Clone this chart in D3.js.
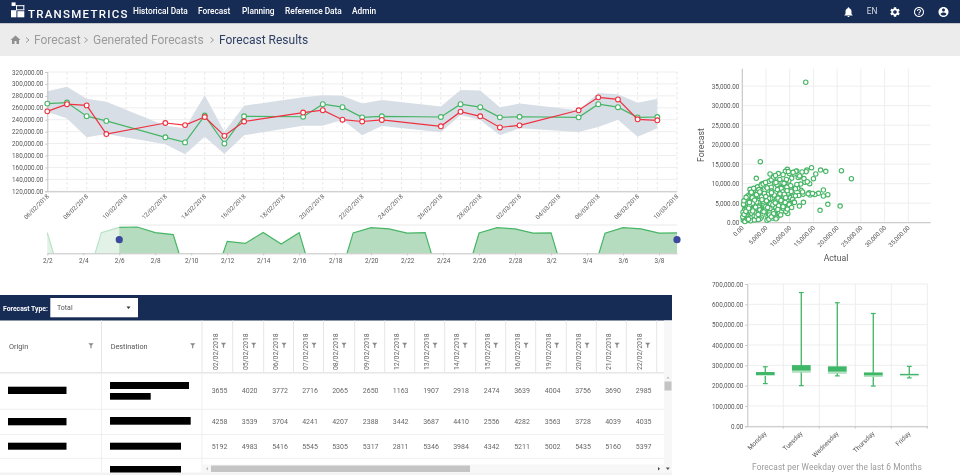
<!DOCTYPE html>
<html><head><meta charset="utf-8">
<script src="https://cdn.jsdelivr.net/npm/d3@7/dist/d3.min.js"></script>
<style>
html,body{margin:0;padding:0;background:#fff;overflow:hidden}
svg{display:block;filter:blur(0.3px)}
text{font-family:Roboto,sans-serif}
.tick text{font-family:Roboto,sans-serif}
</style></head><body><svg id="c" width="960" height="475"></svg>
<script>
// ---------- data ----------
const navItems = ["Historical Data","Forecast","Planning","Reference Data","Admin"];
const crumbs = ["Forecast","Generated Forecasts"];
const currentCrumb = "Forecast Results";

const forecastDates = ["2018-02-06","2018-02-07","2018-02-08","2018-02-09","2018-02-12","2018-02-13","2018-02-14","2018-02-15","2018-02-16","2018-02-19","2018-02-20","2018-02-21","2018-02-22","2018-02-23","2018-02-26","2018-02-27","2018-02-28","2018-03-01","2018-03-02","2018-03-05","2018-03-06","2018-03-07","2018-03-08","2018-03-09"];
const forecastValues = [267000,268800,246000,238000,210500,202000,247000,200000,245700,245000,266000,261000,244000,245700,244600,266000,261000,244000,245000,244000,266000,261000,244000,244600];
const actualSeries = [254000,266000,264000,216000,234500,231000,244600,213000,237000,252000,256000,240000,237000,239600,229000,253500,245700,227000,230600,255800,277500,274000,240700,239000];
const bandUpper = [287600,295400,275000,270000,230000,225600,281000,220000,263600,277500,281000,280000,267000,273000,262000,290000,289000,261000,267000,256000,285000,282600,268600,275000];
const bandLower = [253500,242000,210500,216000,199000,182000,211600,182600,214000,230000,230000,240000,214000,229500,219000,248000,239600,214000,225600,219400,228000,240000,211600,225600];

const overviewStart = "2018-02-02";
const overviewValues = [246000,0,0,246000,267000,268800,246000,238000,0,0,210500,202000,247000,200000,245700,0,0,245000,266000,261000,244000,245700,0,0,244600,266000,261000,244000,245000,0,0,244000,266000,261000,244000,244600];

const scatterActual = [13380,3800,2950,23000,20900,17600,16500,14600,13600,13450,11480,9500,9080,5850,6830,1620,20630,18030,16400,18030,17100,16060,17100,9580,7820,12890,12040,15490,15000,14080,
 14300,13900,13200,12800,12400,12200,11900,11600,11100,10900,10600,10400,10100,9800,9300,9000,8700,8400,8100,7800,
 13000,12700,12300,11800,11300,10800,10300,9900,9600,9200,8800,8500,8200,7900,7600,7300,7000,6700,6400,6100,
 15300,14800,14200,13700,12600,12100,11700,11200,10700,10200,9700,9400,8900,8600,8000,7700,7400,7100,6800,6500,
 6200,5900,5600,5300,5000,4700,4400,4100,3800,3500,3200,2900,2600,2300,2000,1700,1400,1100,800,500,
 6300,6000,5700,5400,5100,4800,4500,4200,3900,3600,3300,3000,2700,2400,2100,1800,1500,1200,900,600,
 200,350,500,700,850,1000,1150,1300,1450,1650,1850,2050,2250,2450,2650,2850,3050,3250,3450,3650,
 150,300,450,650,950,1250,1550,1900,2200,2500,2800,3100,3400,3700,4000,4300,4600,4900,5200,5500,
 5800,6100,6400,6700,7000,7300,7600,7900,8200,8500,8800,9100,9400,9700,10000,10300,10600,10900,11200,11500,
 4050,4350,4650,4950,5250,5550,5850,6150,6450,6750,7050,7350,7650,7950,8250,8550,8850,9150,9450,9750,
 100,250,400,550,750,1050,1350,1750,2150,2550,2950,3350,3750,4150,4550,4950,5350,5750,6150,6550,
 6950,7250,7550,7850,8150,8450,8750,9050,9350,9650,3100,3600,4100,4600,5100,5600,6100,6600,7100,7600,
 6400,6900,7300,7800,8300,8700,9200,9900,10400,11000,6600,7100,7500,8100,8600,9500,1200,1700,2300,2700,3200,3500,4000,4400,4900,1500,2100,2600,3000,3700,350,800,1300,1900,2400,3400,5200,5600,6100,7000];
const scatterForecast = [36000,15640,11370,11280,13330,13160,13500,14100,13500,13080,13250,13680,13160,12480,11970,8550,4270,4700,3160,7180,8380,7520,6840,2390,2050,5210,4270,12480,11280,7690,
 7100,7400,10400,7300,8300,11800,7000,9500,8900,12500,7500,11400,6500,10700,11100,9900,6100,10300,9000,5400,
 11300,7900,9900,11600,13200,6800,8400,12600,7300,9200,10100,6600,8800,11100,5800,9700,7700,10800,6300,9100,
 7200,7500,10000,10500,13000,12000,8800,6900,12900,9500,13100,5700,7800,12300,7000,4800,8500,5600,10200,11200,
 7400,4900,8100,5500,9300,3800,7000,4500,8600,5200,6700,3400,5900,2700,6300,4100,5400,2200,3900,1300,
 3100,6200,3700,7300,2600,6400,3200,5700,8300,4300,7800,4700,6900,3500,5100,2400,3000,1700,2800,3600,
 600,1900,3300,1100,4200,2000,4900,800,3700,1500,5600,2300,6100,1000,4400,2600,5300,1700,4000,6800,
 2700,4600,900,2400,3400,600,4500,1200,3000,1700,4000,800,2500,3300,1400,2900,4700,3500,1900,2200,
 2700,1800,3900,1300,3100,2300,4400,6200,5000,7900,6600,4300,9100,7600,4900,8000,6000,5300,8700,9800,
 6600,5500,7500,4200,8900,6200,3600,8100,4600,7100,3800,6000,4400,7400,5800,3700,7300,6400,8200,4100,
 1500,4700,2100,300,2900,1000,3700,500,5000,700,1600,2100,1000,5900,2800,6700,3900,2000,7700,2900,
 5100,3200,6300,2500,5700,3000,4600,5200,3300,4000,8200,9100,9900,10100,5600,10600,11000,11700,10300,12600,
 1200,1900,1300,2400,3000,3600,2900,4600,3900,5200,2300,1000,3400,2000,4100,3500,6900,7600,8100,8700,9200,8500,9600,9900,10300,5200,6400,5800,7200,7900,5600,6500,900,7800,8800,800,600,900,1500,12100];

const weekdayNames = ["Monday","Tuesday","Wednesday","Thursday","Friday"];
const boxLow = [210000,200000,248000,198000,238000];
const boxQ1 = [247500,264000,259000,243000,247000];
const boxMedian = [250000,272000,267000,248000,249000];
const boxQ3 = [267000,301000,295000,265000,258000];
const boxHigh = [293000,658000,608000,555000,295000];
const boxTitle = "Forecast per Weekday over the last 6 Months";

const tableDates = ["02/02/2018","05/02/2018","06/02/2018","07/02/2018","08/02/2018","09/02/2018","12/02/2018","13/02/2018","14/02/2018","15/02/2018","16/02/2018","19/02/2018","20/02/2018","21/02/2018","22/02/2018"];
const tableRow1 = [3655,4020,3772,2716,2065,2650,1163,1907,2918,2474,3639,4004,3756,3690,2985];
const tableRow2 = [4258,3539,3704,4241,4207,2388,3442,3687,4410,2556,4282,3563,3728,4039,4035];
const tableRow3 = [5192,4983,5416,5545,5305,5317,2811,5346,3984,4342,5211,5002,5435,5160,5397];

// ---------- helpers ----------
const svg = d3.select("#c");
const NAVY="#172c55", GREEN="#46b565", RED="#f0303f", BAND="#d5dce5", GRID="#eeeeee", AXIS="#c4c4c4", TICK="#555";
const parse = d3.utcParse("%Y-%m-%d");
const fmt2 = d3.format(",.2f");
const defs = svg.append("defs");
function icon(path,x,y,size,fill){
  svg.append("path").attr("d",path).attr("fill",fill)
    .attr("transform",`translate(${x-size/2},${y-size/2}) scale(${size/24})`);
}
function styleAxis(g,fs){
  g.selectAll(".domain").attr("stroke",AXIS).attr("stroke-width",1);
  g.selectAll(".tick line").attr("stroke",AXIS);
  g.selectAll("text").attr("fill",TICK).style("font-size",fs+"px");
}
function rotateLabels(g,off){
  g.selectAll("text").attr("y",0).attr("dy","0.35em").attr("text-anchor","end")
   .attr("transform",`translate(0,${off}) rotate(-45)`);
}

// ---------- page chrome ----------
svg.append("rect").attr("width",960).attr("height",475).attr("fill","#fff");
svg.append("rect").attr("y",23).attr("width",960).attr("height",33).attr("fill","#ececec");
svg.append("rect").attr("width",960).attr("height",23).attr("fill",NAVY);
svg.append("rect").attr("y",23).attr("width",960).attr("height",1).attr("fill","#c4c6cb");
// logo
const logo=[[11.6,2.4,4,3.6],[16,5.2,8.3,1],[23.3,5.2,1,5],[16,9.3,8.3,1],[16,5.2,1,5],[11,10.2,5.4,7.1],[17.4,11.2,6.9,6.1]];
svg.selectAll(".lg").data(logo).join("rect").attr("x",d=>d[0]).attr("y",d=>d[1]).attr("width",d=>d[2]).attr("height",d=>d[3]).attr("fill","#fff");
svg.append("text").attr("x",28).attr("y",17.5).attr("fill","#fff").attr("font-size",11.5).attr("font-weight",500).attr("letter-spacing",1.25).text("TRANSMETRICS");
const navX=[133,198,242,285,352];
svg.selectAll(".nav").data(navItems).join("text").attr("x",(d,i)=>navX[i]).attr("y",14).attr("fill","#fff").attr("font-size",8.3).attr("font-weight",500).text(d=>d);
const P={
 home:"M10 20v-6h4v6h5v-8h3L12 3 2 12h3v8z",
 bell:"M12 22c1.1 0 2-.9 2-2h-4c0 1.1.89 2 2 2zm6-6v-5c0-3.07-1.64-5.64-4.5-6.32V4c0-.83-.67-1.5-1.5-1.5s-1.5.67-1.5 1.5v.68C7.63 5.36 6 7.92 6 11v5l-2 2v1h16v-1l-2-2z",
 gear:"M19.14 12.94c.04-.3.06-.61.06-.94 0-.32-.02-.64-.07-.94l2.03-1.58c.18-.14.23-.41.12-.61l-1.92-3.32c-.12-.22-.37-.29-.59-.22l-2.39.96c-.5-.38-1.03-.7-1.62-.94l-.36-2.54c-.04-.24-.24-.41-.48-.41h-3.84c-.24 0-.43.17-.47.41l-.36 2.54c-.59.24-1.13.57-1.62.94l-2.39-.96c-.22-.08-.47 0-.59.22L2.74 8.87c-.12.21-.08.47.12.61l2.03 1.58c-.05.3-.09.63-.09.94s.02.64.07.94l-2.03 1.58c-.18.14-.23.41-.12.61l1.92 3.32c.12.22.37.29.59.22l2.39-.96c.5.38 1.03.7 1.62.94l.36 2.54c.05.24.24.41.48.41h3.84c.24 0 .44-.17.47-.41l.36-2.54c.59-.24 1.13-.56 1.62-.94l2.39.96c.22.08.47 0 .59-.22l1.92-3.32c.12-.22.07-.47-.12-.61l-2.01-1.58zM12 15.6c-1.98 0-3.6-1.62-3.6-3.6s1.62-3.6 3.6-3.6 3.6 1.62 3.6 3.6-1.62 3.6-3.6 3.6z",
 help:"M11 18h2v-2h-2v2zm1-16C6.48 2 2 6.48 2 12s4.48 10 10 10 10-4.48 10-10S17.52 2 12 2zm0 18c-4.41 0-8-3.59-8-8s3.59-8 8-8 8 3.59 8 8-3.59 8-8 8zm0-14c-2.21 0-4 1.79-4 4h2c0-1.1.9-2 2-2s2 .9 2 2c0 2-3 1.75-3 5h2c0-2.25 3-2.5 3-5 0-2.21-1.79-4-4-4z",
 user:"M12 2C6.48 2 2 6.48 2 12s4.48 10 10 10 10-4.48 10-10S17.52 2 12 2zm0 3c1.66 0 3 1.34 3 3s-1.34 3-3 3-3-1.34-3-3 1.34-3 3-3zm0 14.2c-2.5 0-4.71-1.28-6-3.22.03-1.99 4-3.08 6-3.08 1.99 0 5.97 1.09 6 3.08-1.29 1.94-3.5 3.22-6 3.22z"};
icon(P.bell,848.5,12,12,"#fff");
svg.append("text").attr("x",872).attr("y",14).attr("text-anchor","middle").attr("fill","#d8dce4").attr("font-size",8.3).text("EN");
icon(P.gear,895,12,12,"#fff");
icon(P.help,919,12,12,"#fff");
icon(P.user,943.5,12,12,"#fff");
// breadcrumb
icon(P.home,15.5,40,12,"#8f8f8f");
const crumbX=[34,93], sepX=[27.5,86,212];
svg.selectAll(".cr").data(crumbs).join("text").attr("x",(d,i)=>crumbX[i]).attr("y",44).attr("fill","#9b9b9b").attr("font-size",12).text(d=>d);
svg.append("text").attr("x",219).attr("y",44).attr("fill","#2d3f63").attr("font-size",12).text(currentCrumb);
svg.selectAll(".sep").data(sepX).join("path").attr("fill","none").attr("stroke","#9b9b9b").attr("stroke-width",1)
   .attr("d",d=>`M${d-1.5} 37.5L${d+1.5} 40L${d-1.5} 42.5`);

// ---------- main time chart ----------
const dates = forecastDates.map(parse);
const x = d3.scaleUtc().domain([parse("2018-02-06"),parse("2018-03-10")]).range([47.3,677]);
const y = d3.scaleLinear().domain([120000,320000]).range([191.3,72]);
const gm = svg.append("g");
const yTicks = d3.range(120000,320001,20000);
gm.selectAll(".hg").data(yTicks).join("line").attr("x1",47.3).attr("x2",677).attr("y1",d=>y(d)).attr("y2",d=>y(d)).attr("stroke",GRID);
gm.selectAll(".vg").data(d3.utcDays(parse("2018-02-07"),parse("2018-03-11"))).join("line").attr("x1",d=>x(d)).attr("x2",d=>x(d)).attr("y1",72).attr("y2",191.3).attr("stroke","#e6e6e6").attr("stroke-dasharray","2.5,2.5");
gm.append("path").datum(dates.map((d,i)=>i)).attr("fill",BAND).attr("fill-opacity",.95)
  .attr("d",d3.area().x(i=>x(dates[i])).y0(i=>y(bandLower[i])).y1(i=>y(bandUpper[i])));
gm.append("g").attr("transform","translate(47.3,0)").call(d3.axisLeft(y).tickValues(yTicks).tickFormat(fmt2).tickSize(2).tickPadding(2)).call(g=>styleAxis(g,6.3));
const xa = gm.append("g").attr("transform","translate(0,191.3)").call(d3.axisBottom(x).tickValues(d3.utcDays(parse("2018-02-06"),parse("2018-03-11"),2)).tickFormat(d3.utcFormat("%d/%m/%Y")).tickSize(0).tickSizeOuter(0));
styleAxis(xa,6.1); rotateLabels(xa,4);
function drawSeries(vals,col){
  gm.append("path").datum(vals).attr("fill","none").attr("stroke",col).attr("stroke-width",1.2)
    .attr("d",d3.line().x((d,i)=>x(dates[i])).y(d=>y(d)));
  gm.selectAll(null).data(vals).join("circle").attr("cx",(d,i)=>x(dates[i])).attr("cy",d=>y(d)).attr("r",2.4).attr("fill","#fff").attr("stroke",col).attr("stroke-width",1.1);
}
drawSeries(forecastValues,GREEN);
drawSeries(actualSeries,RED);

// ---------- overview (range selector) ----------
const ovDates = overviewValues.map((d,i)=>d3.utcDay.offset(parse(overviewStart),i));
const ox = d3.scaleUtc().domain([parse(overviewStart),parse("2018-03-09")]).range([47.3,677]);
const oy = d3.scaleLinear().domain([162000,277000]).range([253.3,225]);
defs.append("clipPath").attr("id","ovclip").append("rect").attr("x",47.3).attr("y",224).attr("width",630).attr("height",29.3);
const go = svg.append("g");
const gc = go.append("g").attr("clip-path","url(#ovclip)");
gc.append("path").datum(overviewValues).attr("fill","#b6dcbf").attr("stroke","none")
  .attr("d",d3.area().x((d,i)=>ox(ovDates[i])).y0(oy(0)).y1(d=>oy(d)));
gc.append("path").datum(overviewValues).attr("fill","none").attr("stroke",GREEN).attr("stroke-width",1.2)
  .attr("d",d3.line().x((d,i)=>ox(ovDates[i])).y(d=>oy(d)));
const bx0=ox(parse("2018-02-06"));
go.append("rect").attr("x",47.3).attr("y",224).attr("width",bx0-47.3).attr("height",29.3).attr("fill","#fff").attr("fill-opacity",.62);
go.append("line").attr("x1",bx0).attr("x2",677).attr("y1",225).attr("y2",225).attr("stroke","#e9e9e9");
const oa = go.append("g").attr("transform","translate(0,253.3)").call(d3.axisBottom(ox).tickValues(d3.utcDays(parse(overviewStart),parse("2018-03-10"),2)).tickFormat(d=>(d.getUTCMonth()+1)+"/"+d.getUTCDate()).tickSize(2).tickSizeOuter(0).tickPadding(3));
styleAxis(oa,6.4);
go.selectAll(".hd").data([parse("2018-02-06"),parse("2018-03-09")]).join("circle").attr("cx",d=>ox(d)).attr("cy",239.7).attr("r",3.6).attr("fill","#3b4a9c");

// ---------- scatter ----------
const sx = d3.scaleLinear().domain([0,40000]).range([742.3,932]);
const sy = d3.scaleLinear().domain([0,39500]).range([222.7,68.6]);
const sT = d3.range(0,35001,5000);
const gs = svg.append("g");
gs.selectAll(".a").data(sT).join("line").attr("x1",742.3).attr("x2",930.7).attr("y1",d=>sy(d)).attr("y2",d=>sy(d)).attr("stroke",GRID);
gs.selectAll(".b").data(sT).join("line").attr("x1",d=>sx(d)).attr("x2",d=>sx(d)).attr("y1",68.6).attr("y2",222.7).attr("stroke",GRID);
gs.append("g").attr("transform","translate(742.3,0)").call(d3.axisLeft(sy).tickValues(sT).tickFormat(fmt2).tickSize(0).tickPadding(3)).call(g=>styleAxis(g,6.3));
const sxa=gs.append("g").attr("transform","translate(0,222.7)").call(d3.axisBottom(sx).tickValues(sT).tickFormat(fmt2).tickSize(0).tickSizeOuter(0));
styleAxis(sxa,6.2); rotateLabels(sxa,4);
gs.selectAll(".domain").attr("d",null);
gs.append("line").attr("x1",742.3).attr("x2",742.3).attr("y1",68.6).attr("y2",222.7).attr("stroke",AXIS);
gs.append("line").attr("x1",742.3).attr("x2",930.7).attr("y1",222.7).attr("y2",222.7).attr("stroke",AXIS);
gs.selectAll(".p").data(scatterActual).join("circle").attr("cx",d=>sx(d)).attr("cy",(d,i)=>sy(scatterForecast[i])).attr("r",2.2).attr("fill","#fff").attr("stroke",GREEN).attr("stroke-width",1.1);
gs.append("text").attr("x",836).attr("y",261).attr("text-anchor","middle").attr("fill",TICK).attr("font-size",8.7).text("Actual");
gs.append("text").attr("transform","translate(704,145) rotate(-90)").attr("text-anchor","middle").attr("fill",TICK).attr("font-size",8.7).text("Forecast");

// ---------- box plot ----------
const bx = d3.scaleBand().domain(weekdayNames).range([747.3,927.3]);
const by = d3.scaleLinear().domain([0,700000]).range([426.3,284]);
const bT = d3.range(0,700001,100000);
const gb = svg.append("g");
gb.selectAll(".a").data(bT).join("line").attr("x1",747.3).attr("x2",927.3).attr("y1",d=>by(d)).attr("y2",d=>by(d)).attr("stroke",GRID);
gb.selectAll(".e").data(weekdayNames).join("line").attr("x1",d=>bx(d)+bx.bandwidth()).attr("x2",d=>bx(d)+bx.bandwidth()).attr("y1",284).attr("y2",426.3).attr("stroke",GRID);
gb.selectAll(".t").data(weekdayNames).join("line").attr("x1",d=>bx(d)+bx.bandwidth()).attr("x2",d=>bx(d)+bx.bandwidth()).attr("y1",426.3).attr("y2",428.5).attr("stroke",AXIS);
gb.append("g").attr("transform","translate(747.3,0)").call(d3.axisLeft(by).tickValues(bT).tickFormat(fmt2).tickSize(2).tickPadding(2)).call(g=>styleAxis(g,6.3));
const bxa=gb.append("g").attr("transform","translate(0,426.3)").call(d3.axisBottom(bx).tickSize(0).tickSizeOuter(0));
styleAxis(bxa,6.6); rotateLabels(bxa,6);
const boxW=bx.bandwidth()*.52;
weekdayNames.forEach((d,i)=>{
  const c=bx(d)+bx.bandwidth()/2;
  gb.append("line").attr("x1",c).attr("x2",c).attr("y1",by(boxHigh[i])).attr("y2",by(boxLow[i])).attr("stroke","#4dbb6e").attr("stroke-width",1.4);
  [boxHigh[i],boxLow[i]].forEach(v=>gb.append("line").attr("x1",c-2.4).attr("x2",c+2.4).attr("y1",by(v)).attr("y2",by(v)).attr("stroke","#3fb768").attr("stroke-width",1.2));
  gb.append("rect").attr("x",c-boxW/2).attr("width",boxW).attr("y",by(boxQ3[i])).attr("height",by(boxMedian[i])-by(boxQ3[i])).attr("fill","#3fb768");
  gb.append("rect").attr("x",c-boxW/2).attr("width",boxW).attr("y",by(boxMedian[i])).attr("height",by(boxQ1[i])-by(boxMedian[i])).attr("fill","#9bd8ad");
  gb.append("line").attr("x1",c-boxW/2).attr("x2",c+boxW/2).attr("y1",by(boxMedian[i])).attr("y2",by(boxMedian[i])).attr("stroke","#e3f4e8").attr("stroke-width",.7);
});
gb.append("text").attr("x",837).attr("y",469.5).attr("text-anchor","middle").attr("fill","#9a9a9a").attr("font-size",8.3).attr("letter-spacing",.1).text(boxTitle);

// ---------- table ----------
const gt = svg.append("g");
gt.append("rect").attr("y",295).attr("width",672).attr("height",25.5).attr("fill",NAVY);
gt.append("text").attr("x",3).attr("y",310.5).attr("fill","#fff").attr("font-size",6.8).attr("font-weight",700).text("Forecast Type:");
gt.append("rect").attr("x",50.3).attr("y",298).attr("width",87.7).attr("height",19.3).attr("fill","#fff");
gt.append("text").attr("x",57).attr("y",310).attr("fill","#555").attr("font-size",7).text("Total");
gt.append("path").attr("d","M126.5 306.5h4l-2 2.6z").attr("fill","#333");
gt.append("rect").attr("y",372).attr("width",664).attr("height",1.6).attr("fill","#e8e8e8");
const colEdges=[101.5,202,232.7,263.7,293.5,323.5,354.7,384.7,414.7,444.7,475.7,505.7,535.7,566.3,596.3,626.3,656.7];
gt.selectAll(".ce").data(colEdges).join("line").attr("x1",d=>d).attr("x2",d=>d).attr("y1",320.5).attr("y2",372).attr("stroke","#e6e6e6");
gt.selectAll(".rc").data([101.5,202]).join("line").attr("x1",d=>d).attr("x2",d=>d).attr("y1",373).attr("y2",475).attr("stroke","#efefef");
gt.selectAll(".rw").data([409.3,434.5,458.3]).join("line").attr("x1",0).attr("x2",664).attr("y1",d=>d).attr("y2",d=>d).attr("stroke","#f0f0f0");
const funnel=(cx,cy)=>`M${cx-2.6} ${cy-2.2}h5.2l-2 2.3v2.6h-1.2v-2.6z`;
gt.append("text").attr("x",9).attr("y",349).attr("fill","#555").attr("font-size",7.3).text("Origin");
gt.append("text").attr("x",110.7).attr("y",349).attr("fill","#555").attr("font-size",7.3).text("Destination");
gt.selectAll(".f").data([91,192.7]).join("path").attr("d",d=>funnel(d,345.5)).attr("fill","#888");
const colCx=i=>i<5?[219.5,249.7,280,310,340][i]:[370.7,400.7,431,461,491.7,522,552.7,583,613,643.7][i-5];
tableDates.forEach((d,i)=>{
  const cx=colCx(i);
  gt.append("text").attr("transform",`translate(${cx-2},370) rotate(-90)`).attr("fill","#666").attr("font-size",6.9).text(d);
  gt.append("path").attr("d",funnel(cx+4,345)).attr("fill","#888");
});
[[tableRow1,393.2],[tableRow2,423.7],[tableRow3,448.7]].forEach(([row,yy])=>{
  gt.selectAll(null).data(row).join("text").attr("x",(d,i)=>colCx(i)).attr("y",yy).attr("text-anchor","middle").attr("fill","#666").attr("font-size",7).text(d=>d);
});
const blacks=[[8,386.7,58.5,7.3],[8,418,58.5,7.3],[8,442.7,58.5,7],[110,382,79,7],[110,393,40.7,6.7],[110,417,80.7,7.7],[110,442.7,71,7],[110,466,71,7.3]];
gt.selectAll(".bk").data(blacks).join("rect").attr("x",d=>d[0]).attr("y",d=>d[1]).attr("width",d=>d[2]).attr("height",d=>d[3]).attr("fill","#000");
// scrollbars
gt.append("rect").attr("x",664).attr("y",320.5).attr("width",8).attr("height",154.5).attr("fill","#f7f7f7");
gt.append("rect").attr("x",664.5).attr("y",381.5).attr("width",7).attr("height",9).attr("fill","#c4c4c4");
gt.append("path").attr("d","M668 376.5l-1.5 2h3z").attr("fill","#bbb");
gt.append("rect").attr("x",202).attr("y",464.5).attr("width",470).attr("height",8).attr("fill","#f7f7f7");
gt.append("rect").attr("x",211).attr("y",465.5).attr("width",259).attr("height",6.5).attr("fill","#c4c4c4");
gt.append("path").attr("d","M208 467l-2 1.8 2 1.8z").attr("fill","#bbb");
gt.append("path").attr("d","M658 467l2 1.8-2 1.8z").attr("fill","#444");
gt.append("path").attr("d","M665.8 467.5h4l-2 2.4z").attr("fill","#555");
gt.append("rect").attr("y",472.5).attr("width",672).attr("height",2.5).attr("fill","#f3f3f3");
</script></body></html>
